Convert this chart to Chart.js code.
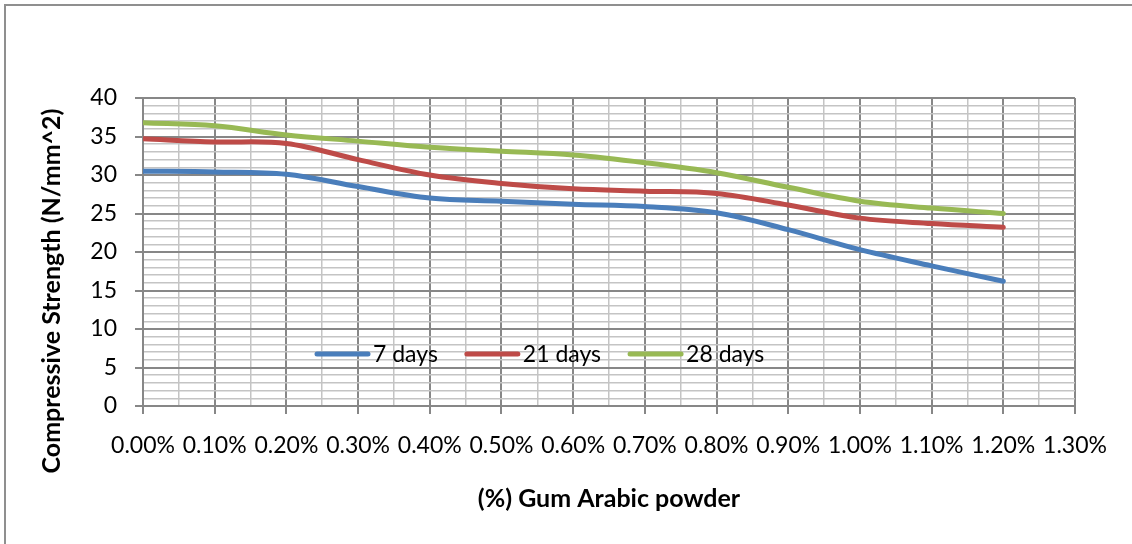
<!DOCTYPE html>
<html>
<head>
<meta charset="utf-8">
<script src="https://cdn.jsdelivr.net/npm/chart.js@4.4.1/dist/chart.umd.min.js"></script>
<style>
  html, body { margin: 0; padding: 0; background: #fff; }
  #wrap { position: relative; width: 1132px; height: 544px; overflow: hidden; }
  #frame { position: absolute; left: 4px; top: 4px; right: -4px; bottom: -4px; border-top: 2px solid #8f8f8f; border-left: 2px solid #8f8f8f; }
  canvas { position: absolute; left: 0; top: 0; }
</style>
</head>
<body>
<div id="wrap">
  <div id="frame"></div>
  <canvas id="strengthChart" width="1132" height="544"></canvas>
</div>
<script>
// Valeurs (dosage en %)
const dosage = [0, 0.1, 0.2, 0.3, 0.4, 0.5, 0.6, 0.7, 0.8, 0.9, 1.0, 1.1, 1.2];
const days7  = [30.5, 30.4, 30.1, 28.5, 27.0, 26.6, 26.2, 25.9, 25.1, 22.9, 20.3, 18.2, 16.2];
const days21 = [34.7, 34.3, 34.1, 32.0, 30.0, 28.9, 28.2, 27.9, 27.6, 26.1, 24.4, 23.7, 23.2];
const days28 = [36.8, 36.4, 35.2, 34.4, 33.6, 33.1, 32.6, 31.6, 30.3, 28.4, 26.6, 25.7, 25.0];
const seriesLabels = ['7 days', '21 days', '28 days'];
const seriesColors = ['#4a7ebb', '#be4b48', '#98b954'];

const majorGrid = '#878787';
const minorGrid = '#c4c4c4';

Chart.defaults.font.family = 'Lato, "Open Sans", sans-serif';
Chart.defaults.color = '#000';

const isMajorX = v => Math.round(v * 100) % 10 === 0;
const isMajorY = v => Math.round(v) % 5 === 0;

// Légende dessinée dans la zone du graphique (comme Excel)
const insideLegend = {
    id: 'insideLegend',
    afterDatasetsDraw(chart) {
        const ctx = chart.ctx;
        ctx.save();
        ctx.font = '23px Lato';
        ctx.textBaseline = 'middle';
        let x = 315;
        const y = 354;
        chart.data.datasets.forEach(ds => {
            ctx.strokeStyle = ds.borderColor;
            ctx.lineWidth = 5;
            ctx.lineCap = 'round';
            ctx.beginPath();
            ctx.moveTo(x + 2, y);
            ctx.lineTo(x + 53, y);
            ctx.stroke();
            ctx.fillStyle = '#000';
            ctx.fillText(ds.label, x + 58, y + 1);
            x += 58 + ctx.measureText(ds.label).width + 27;
        });
        ctx.restore();
    }
};

// Titre de l'axe Y (décalé vers le bas comme l'original)
const yTitle = {
    id: 'yTitle',
    afterDraw(chart) {
        const ctx = chart.ctx;
        ctx.save();
        ctx.translate(52, 291);
        ctx.rotate(-Math.PI / 2);
        ctx.font = 'bold 25px Lato';
        ctx.fillStyle = '#000';
        ctx.textAlign = 'center';
        ctx.textBaseline = 'middle';
        ctx.fillText('Compressive Strength (N/mm^2)', 0, 0);
        ctx.restore();
    }
};

const series = [days7, days21, days28];

new Chart(document.getElementById('strengthChart').getContext('2d'), {
    type: 'line',
    data: {
        datasets: series.map((vals, i) => ({
            label: seriesLabels[i],
            data: dosage.map((d, j) => ({ x: d, y: vals[j] })),
            borderColor: seriesColors[i],
            backgroundColor: seriesColors[i],
            borderWidth: 5,
            borderCapStyle: 'round',
            borderJoinStyle: 'round',
            pointRadius: 0,
            tension: 0.35,
            fill: false
        }))
    },
    options: {
        responsive: false,
        animation: false,
        layout: { padding: { top: 98, right: 57, bottom: 30, left: 0 } },
        plugins: {
            legend: { display: false },
            tooltip: { enabled: false }
        },
        scales: {
            x: {
                type: 'linear',
                min: 0,
                max: 1.3,
                afterFit: s => { s.height = 108; },
                border: { color: majorGrid, width: 2 },
                grid: {
                    color: c => isMajorX(c.tick.value) ? majorGrid : minorGrid,
                    lineWidth: c => isMajorX(c.tick.value) ? 2 : 1.5,
                    tickLength: 8,
                    tickColor: c => isMajorX(c.tick.value) ? majorGrid : 'rgba(0,0,0,0)'
                },
                ticks: {
                    stepSize: 0.05,
                    autoSkip: false,
                    maxRotation: 0,
                    padding: 18,
                    font: { size: 23 },
                    callback: v => isMajorX(v) ? v.toFixed(2) + '%' : ''
                },
                title: {
                    display: true,
                    text: '(%) Gum Arabic powder',
                    font: { size: 25, weight: 'bold' },
                    padding: 0
                }
            },
            y: {
                min: 0,
                max: 40,
                afterFit: s => { s.width = 143; },
                border: { color: majorGrid, width: 2 },
                grid: {
                    color: c => isMajorY(c.tick.value) ? majorGrid : minorGrid,
                    lineWidth: c => isMajorY(c.tick.value) ? 2 : 1.5,
                    tickLength: 8,
                    tickColor: c => isMajorY(c.tick.value) ? majorGrid : 'rgba(0,0,0,0)'
                },
                ticks: {
                    stepSize: 1,
                    autoSkip: false,
                    padding: 18,
                    font: { size: 23 },
                    callback: v => isMajorY(v) ? v : ''
                }
            }
        }
    },
    plugins: [insideLegend, yTitle]
});
</script>
</body>
</html>
